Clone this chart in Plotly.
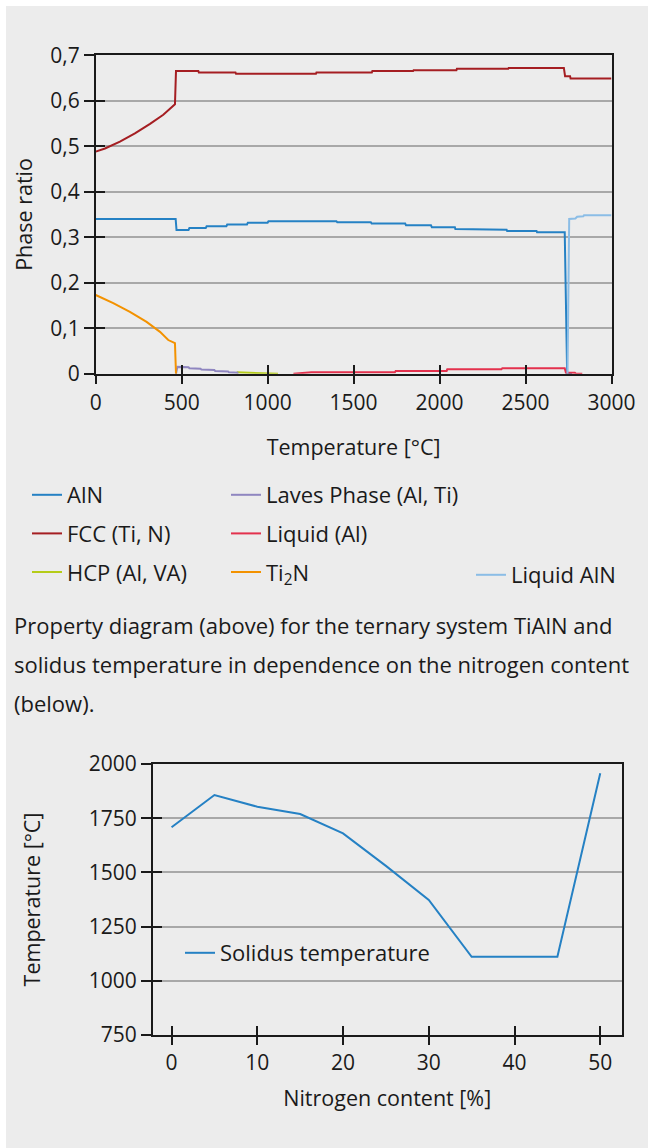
import plotly.graph_objects as go

W, H = 648, 1148
FONT = "Open Sans"
TXT = "#1a1a1a"

# ---------------- data: property diagram (top) ----------------
aln_T = [0, 465, 470, 540, 545, 640, 645, 760, 765, 880, 885, 1000, 1005, 1400, 1405, 1600, 1605,
         1800, 1805, 1950, 1955, 2089, 2092, 2225, 2228, 2390, 2393, 2564, 2567, 2728, 2742, 2770]
aln_V = [0.340, 0.340, 0.316, 0.316, 0.320, 0.320, 0.324, 0.324, 0.328, 0.328, 0.332, 0.332, 0.335,
         0.335, 0.333, 0.333, 0.330, 0.330, 0.326, 0.326, 0.322, 0.322, 0.318, 0.318, 0.3165, 0.3165,
         0.3136, 0.3136, 0.311, 0.311, 0.0, 0.0]

fcc_T = [0, 54, 141, 228, 316, 393, 461, 467, 597, 600, 813, 816, 1281, 1284, 1606, 1609, 1846,
         1849, 2098, 2101, 2399, 2402, 2723, 2730, 2759, 2762, 3000]
fcc_V = [0.488, 0.495, 0.510, 0.528, 0.549, 0.569, 0.592, 0.665, 0.665, 0.662, 0.662, 0.659, 0.659,
         0.662, 0.662, 0.665, 0.665, 0.667, 0.667, 0.670, 0.670, 0.672, 0.672, 0.654, 0.654, 0.649, 0.649]

hcp_T = [820, 900, 1000, 1060]
hcp_V = [0.003, 0.002, 0.0015, 0.0]

laves_T = [467, 475, 540, 545, 610, 615, 690, 695, 770, 775, 830]
laves_V = [0.0, 0.015, 0.014, 0.012, 0.011, 0.009, 0.008, 0.006, 0.005, 0.003, 0.002]

liqal_T = [1150, 1250, 1255, 1740, 1745, 2041, 2045, 2360, 2365, 2728, 2735, 2787, 2792, 2830]
liqal_V = [0.0, 0.002, 0.003, 0.003, 0.006, 0.006, 0.0097, 0.0097, 0.012, 0.012, 0.002, 0.002, 0.0005, 0.0]

ti2n_T = [0, 102, 199, 296, 374, 422, 461, 467]
ti2n_V = [0.173, 0.155, 0.136, 0.114, 0.092, 0.074, 0.067, 0.0]

liqaln_T = [2744, 2754, 2790, 2800, 2836, 2840, 3000]
liqaln_V = [0.0, 0.340, 0.341, 0.345, 0.346, 0.348, 0.348]

y1_ticks = [0, 0.1, 0.2, 0.3, 0.4, 0.5, 0.6, 0.7]
y1_labels = ["0", "0,1", "0,2", "0,3", "0,4", "0,5", "0,6", "0,7"]
x1_ticks = [0, 500, 1000, 1500, 2000, 2500, 3000]

# ---------------- data: solidus temperature (bottom) ----------------
nitrogen = [0, 5, 10, 15, 20, 25, 30, 35, 45, 50]
solidus = [1708, 1857, 1803, 1769, 1680, 1530, 1373, 1111, 1111, 1957]
y2_ticks = [750, 1000, 1250, 1500, 1750, 2000]
x2_ticks = [0, 10, 20, 30, 40, 50]

caption = ["Property diagram (above) for the ternary system TiAlN and",
           "solidus temperature in dependence on the nitrogen content",
           "(below)."]

# ---------------- helpers ----------------
def px_x(p):
    return p / W

def px_y(p):
    return 1 - p / H

fig = go.Figure()

series = [
    ("AlN", aln_T, aln_V, "#2581c4", "legend"),
    ("FCC (Ti, N)", fcc_T, fcc_V, "#a51e22", "legend"),
    ("HCP (Al, VA)", hcp_T, hcp_V, "#b5cc18", "legend"),
    ("Laves Phase (Al, Ti)", laves_T, laves_V, "#8f86c0", "legend2"),
    ("Liquid (Al)", liqal_T, liqal_V, "#e3314d", "legend2"),
    ("Ti<sub>2</sub>N", ti2n_T, ti2n_V, "#f39200", "legend2"),
    ("Liquid AlN", liqaln_T, liqaln_V, "#8bbde6", "legend3"),
]
for i, (name, xs, ys, col, lg) in enumerate(series):
    fig.add_trace(go.Scatter(x=xs, y=ys, name=name, mode="lines",
                             line=dict(color=col, width=2), legend=lg,
                             legendgroup=f"g{i}", xaxis="x", yaxis="y"))

fig.add_trace(go.Scatter(x=nitrogen, y=solidus, name="Solidus temperature", mode="lines",
                         line=dict(color="#2581c4", width=2), legend="legend4",
                         xaxis="x2", yaxis="y2"))

# empty traces so overlay axes (for crossing tick marks) are drawn
fig.add_trace(go.Scatter(x=[], y=[], xaxis="x3", yaxis="y3", showlegend=False))
fig.add_trace(go.Scatter(x=[], y=[], xaxis="x4", yaxis="y4", showlegend=False))

TICK_SIZE = 21
TEXT_SIZE = 22
tickfont = dict(family=FONT, size=TICK_SIZE, color=TXT)
titlefont = dict(family=FONT, size=21.5, color=TXT)
legfont = dict(family=FONT, size=TEXT_SIZE, color=TXT)

xd1 = [px_x(95.7), px_x(611.5)]
yd1 = [px_y(373.7), px_y(55.2)]
xd2 = [px_x(152.7), px_x(621.7)]
yd2 = [px_y(1035), px_y(764)]
xr2 = [-2.2, 52.5]

common_line = dict(showline=True, linecolor="#1a1a1a", linewidth=1.5, mirror=True,
                   zeroline=False, automargin=False)
overlay_common = dict(showticklabels=False, showgrid=False, showline=False, zeroline=False,
                      automargin=False, ticks="inside", ticklen=9, tickwidth=1.5,
                      tickcolor="#1a1a1a")

fig.update_layout(
    template="none",
    width=W, height=H, autosize=False,
    margin=dict(l=0, r=0, t=0, b=0, pad=0, autoexpand=False),
    paper_bgcolor="white",
    plot_bgcolor="rgba(0,0,0,0)",
    font=dict(family=FONT, size=20, color=TXT),
    showlegend=True,
    xaxis=dict(domain=xd1, anchor="y", range=[0, 3000], tickvals=x1_ticks,
               ticks="outside", ticklen=9, tickwidth=1.5, tickcolor="#1a1a1a",
               tickfont=tickfont, showgrid=False,
               title=dict(text="Temperature [°C]", font=titlefont, standoff=25),
               **common_line),
    yaxis=dict(domain=yd1, anchor="x", range=[0, 0.7], tickvals=y1_ticks, ticktext=y1_labels,
               ticks="outside", ticklen=10, tickwidth=1.5, tickcolor="#1a1a1a",
               tickfont=tickfont, showgrid=True, gridcolor="#a8a8a8", gridwidth=1.5,
               title=dict(text="Phase ratio", font=titlefont, standoff=12),
               **common_line),
    xaxis3=dict(overlaying="x", anchor="y", range=[0, 3000], tickvals=x1_ticks, **overlay_common),
    yaxis3=dict(overlaying="y", anchor="x", range=[0, 0.7], tickvals=y1_ticks, side="left",
                **overlay_common),
    xaxis2=dict(domain=xd2, anchor="y2", range=xr2, tickvals=x2_ticks,
                ticks="outside", ticklen=8, tickwidth=1.5, tickcolor="#1a1a1a",
                tickfont=tickfont, showgrid=False,
                title=dict(text="Nitrogen content [%]", font=titlefont, standoff=16),
                **common_line),
    yaxis2=dict(domain=yd2, anchor="x2", range=[750, 2000], tickvals=y2_ticks,
                ticks="outside", ticklen=10, tickwidth=1.5, tickcolor="#1a1a1a",
                tickfont=tickfont, showgrid=True, gridcolor="#a8a8a8", gridwidth=1.5,
                title=dict(text="Temperature [°C]", font=titlefont, standoff=42),
                **common_line),
    xaxis4=dict(overlaying="x2", anchor="y2", range=xr2, tickvals=x2_ticks, **overlay_common),
    yaxis4=dict(overlaying="y2", anchor="x2", range=[750, 2000], tickvals=y2_ticks, side="left",
                **overlay_common),
    legend=dict(x=px_x(27), y=px_y(474), xanchor="left", yanchor="top",
                bgcolor="rgba(0,0,0,0)", font=legfont, tracegroupgap=7, itemwidth=30),
    legend2=dict(x=px_x(226), y=px_y(474), xanchor="left", yanchor="top",
                 bgcolor="rgba(0,0,0,0)", font=legfont, tracegroupgap=7, itemwidth=30),
    legend3=dict(x=px_x(471), y=px_y(554), xanchor="left", yanchor="top",
                 bgcolor="rgba(0,0,0,0)", font=legfont, itemwidth=30),
    legend4=dict(x=px_x(180), y=px_y(932), xanchor="left", yanchor="top",
                 bgcolor="rgba(0,0,0,0)", font=legfont, itemwidth=30),
    shapes=[dict(type="rect", xref="paper", yref="paper", x0=px_x(6), x1=1, y0=0, y1=px_y(6),
                 fillcolor="#ececec", line=dict(width=0), layer="below")],
)

for i, line in enumerate(caption):
    fig.add_annotation(text=line, xref="paper", yref="paper", x=px_x(12), y=px_y(625 + 39 * i),
                       xanchor="left", yanchor="middle", showarrow=False,
                       font=dict(family=FONT, size=TEXT_SIZE, color=TXT))

fig.write_html("out.html", config={"displayModeBar": False},
               post_script="document.body.style.margin='0';document.body.style.overflow='hidden';")
